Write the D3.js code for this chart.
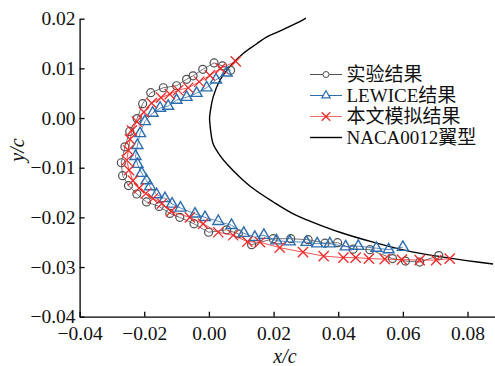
<!DOCTYPE html>
<html><head><meta charset="utf-8">
<script src="https://cdn.jsdelivr.net/npm/d3@7"></script>
<style>
html,body{margin:0;padding:0;background:#fff;}
svg{display:block;font-family:"Liberation Serif","Noto Sans CJK SC",serif;}
</style></head>
<body><svg id="c" width="495" height="366"></svg>
<script>
// Experimental (circles)
const expX = [0.0067,0.0042,0.0016,-0.0019,-0.0049,-0.0069,-0.0100,-0.0141,-0.0180,-0.0205,-0.0222,-0.0245,-0.0260,-0.0271,-0.0267,-0.0249,-0.0223,-0.0193,-0.0154,-0.0121,-0.0090,-0.0046,-0.0001,0.0055,0.0091,0.0132,0.0199,0.0253,0.0307,0.0359,0.0398,0.0446,0.0498,0.0568,0.0608,0.0652,0.0711];
const expY = [0.0096,0.0105,0.0111,0.0098,0.0085,0.0078,0.0065,0.0061,0.0051,0.0029,-0.0001,-0.0027,-0.0058,-0.0090,-0.0116,-0.0136,-0.0153,-0.0169,-0.0178,-0.0192,-0.0200,-0.0213,-0.0230,-0.0225,-0.0233,-0.0255,-0.0243,-0.0243,-0.0245,-0.0252,-0.0251,-0.0264,-0.0265,-0.0283,-0.0288,-0.0290,-0.0277];
// LEWICE (triangles)
const lewX = [0.0055,0.0022,-0.0007,-0.0038,-0.0069,-0.0100,-0.0126,-0.0151,-0.0174,-0.0198,-0.0213,-0.0221,-0.0227,-0.0221,-0.0208,-0.0193,-0.0182,-0.0162,-0.0136,-0.0114,-0.0088,-0.0043,-0.0012,0.0029,0.0070,0.0108,0.0142,0.0170,0.0209,0.0250,0.0302,0.0335,0.0374,0.0423,0.0462,0.0518,0.0556,0.0600];
const lewY = [0.0091,0.0077,0.0061,0.0050,0.0042,0.0036,0.0024,0.0020,0.0010,-0.0007,-0.0031,-0.0055,-0.0077,-0.0093,-0.0111,-0.0126,-0.0138,-0.0154,-0.0162,-0.0173,-0.0181,-0.0193,-0.0200,-0.0208,-0.0216,-0.0232,-0.0240,-0.0236,-0.0247,-0.0249,-0.0250,-0.0253,-0.0253,-0.0259,-0.0258,-0.0262,-0.0265,-0.0260];
// This work (crosses)
const simX = [0.0083,0.0036,0.0003,-0.0030,-0.0064,-0.0095,-0.0121,-0.0148,-0.0177,-0.0201,-0.0223,-0.0238,-0.0244,-0.0249,-0.0254,-0.0247,-0.0235,-0.0216,-0.0195,-0.0173,-0.0145,-0.0117,-0.0059,-0.0018,0.0029,0.0075,0.0119,0.0158,0.0219,0.0291,0.0355,0.0416,0.0454,0.0495,0.0544,0.0597,0.0652,0.0703,0.0745];
const simY = [0.0114,0.0100,0.0086,0.0073,0.0061,0.0056,0.0048,0.0041,0.0030,0.0012,-0.0007,-0.0025,-0.0043,-0.0065,-0.0085,-0.0105,-0.0126,-0.0141,-0.0152,-0.0162,-0.0172,-0.0188,-0.0200,-0.0213,-0.0230,-0.0236,-0.0249,-0.0250,-0.0261,-0.0270,-0.0278,-0.0281,-0.0281,-0.0283,-0.0284,-0.0285,-0.0286,-0.0286,-0.0283];
// NACA0012 airfoil
const foilX = [0.0300,0.0281,0.0219,0.0178,0.0147,0.0106,0.0065,0.0034,0.0013,0.0005,0.0002,0.0003,0.0013,0.0034,0.0055,0.0096,0.0137,0.0199,0.0261,0.0322,0.0405,0.0508,0.0611,0.0714,0.0797,0.0879];
const foilY = [0.0201,0.0194,0.0175,0.0163,0.0149,0.0130,0.0104,0.0076,0.0042,0.0016,0.0000,-0.0011,-0.0052,-0.0075,-0.0092,-0.0119,-0.0142,-0.0169,-0.0193,-0.0210,-0.0230,-0.0250,-0.0267,-0.0279,-0.0287,-0.0294];

const xTicks = [-0.04,-0.02,0.00,0.02,0.04,0.06,0.08];
const yTicks = [-0.04,-0.03,-0.02,-0.01,0.00,0.01,0.02];
const legendLabels = ["实验结果","LEWICE结果","本文模拟结果","NACA0012翼型"];

const svg = d3.select("#c");
const x = d3.scaleLinear().domain([-0.04, 0.0885]).range([79.6, 495]);
const y = d3.scaleLinear().domain([-0.04, 0.02]).range([316.7, 18.7]);
const fmt = d3.format(".2f");

const cGrey = "#505050", cBlue = "#2e6dad", cRed = "#ee2a2a";

// axes
const xAxis = svg.append("g").attr("transform","translate(0,316.7)")
  .call(d3.axisBottom(x).tickValues(xTicks).tickFormat(fmt).tickSizeInner(-5).tickSizeOuter(0).tickPadding(9));
const yAxis = svg.append("g").attr("transform","translate(79.6,0)")
  .call(d3.axisLeft(y).tickValues(yTicks).tickFormat(fmt).tickSizeInner(-5).tickSizeOuter(0).tickPadding(4));
[xAxis,yAxis].forEach(g=>{
  g.selectAll("path,line").attr("stroke","#000").attr("stroke-width",1.3);
  g.selectAll("text").attr("font-size",19.5).attr("fill","#111").attr("font-family","Liberation Serif");
});

const pts = (xs,ys)=>xs.map((v,i)=>[v,ys[i]]);
const line = d3.line().x(d=>x(d[0])).y(d=>y(d[1]));

// airfoil
svg.append("path").datum(pts(foilX,foilY))
  .attr("d", d3.line().x(d=>x(d[0])).y(d=>y(d[1])).curve(d3.curveCatmullRom)).attr("fill","none").attr("stroke","#000").attr("stroke-width",1.4);

// exp
const expP = pts(expX,expY);
svg.append("path").datum(expP).attr("d",line).attr("fill","none").attr("stroke",cGrey).attr("stroke-width",0.8);
svg.selectAll(".ec").data(expP).join("circle").attr("cx",d=>x(d[0])).attr("cy",d=>y(d[1])).attr("r",4)
  .attr("fill","none").attr("stroke",cGrey).attr("stroke-width",1.2);

// lewice
const lewP = pts(lewX,lewY);
const tri = d3.symbol().type(d3.symbolTriangle).size(52);
svg.append("path").datum(lewP).attr("d",line).attr("fill","none").attr("stroke",cBlue).attr("stroke-width",0.8);
svg.selectAll(".lt").data(lewP).join("path").attr("d",tri).attr("transform",d=>`translate(${x(d[0])},${y(d[1])})`)
  .attr("fill","none").attr("stroke",cBlue).attr("stroke-width",1.4);

// sim
const simP = pts(simX,simY);
svg.append("path").datum(simP).attr("d",line).attr("fill","none").attr("stroke",cRed).attr("stroke-width",0.8);
const cross = d3.symbol().type(d3.symbolX).size(70);
svg.selectAll(".sx").data(simP).join("path").attr("d",cross).attr("transform",d=>`translate(${x(d[0])},${y(d[1])})`)
  .attr("fill","none").attr("stroke",cRed).attr("stroke-width",1.3);

// axis titles
svg.append("text").attr("x",285).attr("y",363).attr("text-anchor","middle").attr("font-size",20).attr("font-style","italic").attr("fill","#111").text("x/c");
svg.append("text").attr("transform","translate(24,150) rotate(-90)").attr("text-anchor","middle").attr("font-size",20).attr("font-style","italic").attr("fill","#111").text("y/c");

// legend
const lg = svg.append("g");
const ly0 = 74.5, ldy = 21, lx0 = 310, lx1 = 342;
const lColors = [cGrey, cBlue, "#f07070", "#000"];
legendLabels.forEach((t,i)=>{
  const yy = ly0 + i*ldy;
  lg.append("line").attr("x1",lx0).attr("x2",lx1).attr("y1",yy).attr("y2",yy).attr("stroke",lColors[i]).attr("stroke-width",i===3?1.4:1);
  const cx=(lx0+lx1)/2;
  if(i===0) lg.append("circle").attr("cx",cx).attr("cy",yy).attr("r",3).attr("fill","#fff").attr("stroke",cGrey).attr("stroke-width",1);
  if(i===1) lg.append("path").attr("d",d3.symbol().type(d3.symbolTriangle).size(30)).attr("transform",`translate(${cx},${yy})`).attr("fill","#fff").attr("stroke",cBlue).attr("stroke-width",1.2);
  if(i===2) lg.append("path").attr("d",d3.symbol().type(d3.symbolX).size(50)).attr("transform",`translate(${cx},${yy})`).attr("fill","none").attr("stroke",cRed).attr("stroke-width",1.3);
  lg.append("text").attr("x",346.5).attr("y",yy).attr("dy","0.35em").attr("font-size",19).attr("fill","#111").text(t);
});
</script></body></html>
